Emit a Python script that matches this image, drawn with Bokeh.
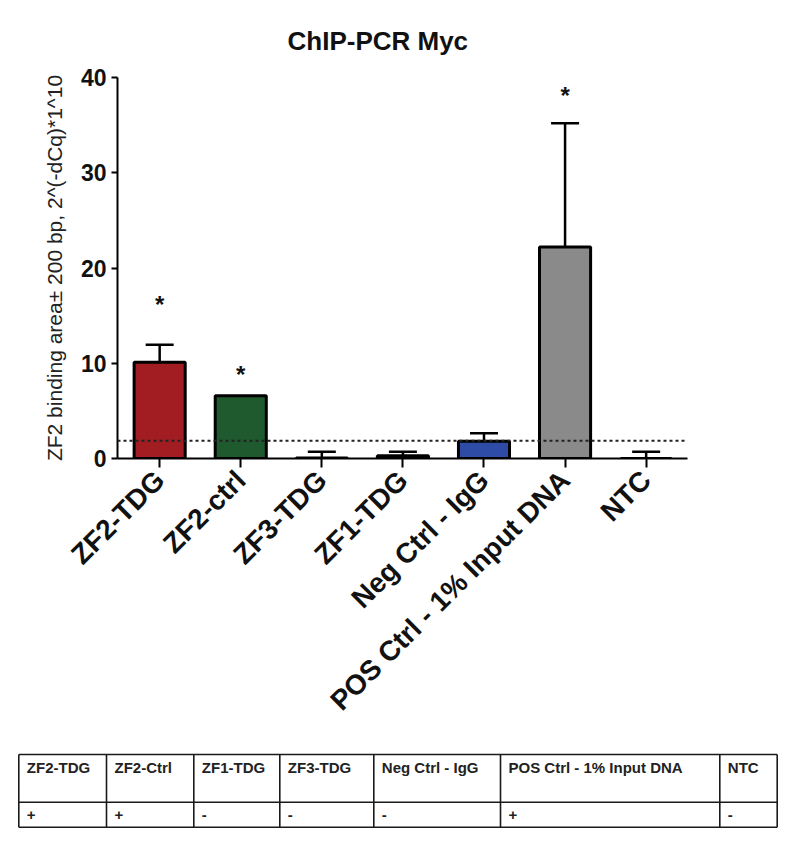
import math
from bokeh.plotting import figure
from bokeh.models import Range1d, FixedTicker, Whisker, Span, ColumnDataSource, TeeHead
from bokeh.core.properties import value
from bokeh.embed import file_html
from bokeh.resources import INLINE

# ---------------- data ----------------
categories = ["ZF2-TDG", "ZF2-ctrl", "ZF3-TDG", "ZF1-TDG", "Neg Ctrl - IgG",
              "POS Ctrl - 1% Input DNA", "NTC"]
means = [10.1, 6.6, 0.05, 0.3, 1.8, 22.2, 0.0]
errors = [1.85, 0.0, 0.65, 0.4, 0.85, 13.0, 0.7]
bar_colors = ["#A11D22", "#1E5A2E", "#8A8A8A", "#8A8A8A", "#2E4CA6", "#8A8A8A", "#8A8A8A"]
sig_x = [0, 1, 5]
sig_y = [16.2, 8.8, 38.1]
sig_text = ["*", "*", "*"]
threshold = 1.87
y_ticks = [0, 10, 20, 30, 40]

table_headers = ["ZF2-TDG", "ZF2-Ctrl", "ZF1-TDG", "ZF3-TDG", "Neg Ctrl - IgG",
                 "POS Ctrl - 1% Input DNA", "NTC"]
table_results = ["+", "+", "-", "-", "-", "+", "-"]

FONT = "Liberation Sans"
W = 800
H_MAIN = 745
H_TABLE = 103

# ---------------- main chart ----------------
p = figure(width=W, height=H_MAIN, x_range=Range1d(-0.52, 6.51), y_range=Range1d(0, 40),
           output_backend="svg", toolbar_location=None,
           min_border_left=117, min_border_right=W - 687, min_border_top=77,
           min_border_bottom=H_MAIN - 458)
p.title.text = "ChIP-PCR Myc"
p.title.text_font = FONT
p.title.text_font_size = "26px"
p.title.text_font_style = "bold"
p.title.text_color = "#111111"
p.title.align = "left"
p.title.offset = 170
p.title.standoff = 44
p.title.text_line_height = 0.8

p.xgrid.visible = False
p.ygrid.visible = False
p.outline_line_color = None
p.background_fill_color = "white"
p.border_fill_color = "white"

idx = list(range(len(categories)))
bars = ColumnDataSource(dict(x=idx, top=means, color=bar_colors))
p.vbar(x="x", top="top", width=0.63, source=bars, fill_color="color",
       line_color="black", line_width=3)

p.add_layout(Span(location=threshold, dimension="width", line_color="#222222",
                  line_width=2, line_dash="3 3"))

up_x = [i for i, e in zip(idx, errors) if e > 0]
up = ColumnDataSource(dict(
    x=up_x,
    base=[means[i] for i in up_x],
    upper=[means[i] + errors[i] for i in up_x]))
p.add_layout(Whisker(source=up, base="x", lower="base", upper="upper",
                     line_width=2.5, line_color="black",
                     upper_head=TeeHead(size=28, line_width=2.5, line_color="black"),
                     lower_head=None))
dn_x = [i for i, e in zip(idx, errors) if e > 0 and means[i] - e > 0]
dn = ColumnDataSource(dict(
    x=dn_x,
    base=[means[i] for i in dn_x],
    lower=[means[i] - errors[i] for i in dn_x]))
p.add_layout(Whisker(source=dn, base="x", lower="lower", upper="base",
                     line_width=2.5, line_color="black",
                     lower_head=TeeHead(size=28, line_width=2.5, line_color="black"),
                     upper_head=None))

p.text(x=sig_x, y=sig_y, text=sig_text, text_font=value(FONT), text_font_size="24px",
       text_font_style="bold", text_align="center", text_baseline="middle",
       text_color="#111111")

# axes
for ax in (p.xaxis[0], p.yaxis[0]):
    ax.axis_line_width = 2
    ax.axis_line_color = "black"
    ax.major_tick_line_width = 2
    ax.major_tick_line_color = "black"
    ax.major_tick_in = 0
    ax.minor_tick_line_color = None
    ax.major_label_text_font = FONT
    ax.major_label_text_font_style = "bold"
    ax.major_label_text_color = "#111111"

p.xaxis.ticker = FixedTicker(ticks=idx)
p.xaxis.major_label_overrides = {i: c for i, c in zip(idx, categories)}
p.xaxis.major_label_orientation = math.pi / 4
p.xaxis.major_label_text_font_size = "28px"
p.xaxis.major_tick_out = 9
p.xaxis.major_label_standoff = 8

p.yaxis.ticker = FixedTicker(ticks=y_ticks)
p.yaxis.major_label_text_font_size = "23px"
p.yaxis.major_tick_out = 6
p.yaxis.major_label_standoff = 5
p.yaxis.axis_label = "ZF2 binding area\u00b1 200 bp, 2^(-dCq)*1^10"
p.yaxis.axis_label_text_font = FONT
p.yaxis.axis_label_text_font_size = "21px"
p.yaxis.axis_label_text_font_style = "normal"
p.yaxis.axis_label_text_color = "#222222"
p.yaxis.axis_label_standoff = 12

# ---------------- table ----------------
col_edges = [18.3, 106, 193.3, 279.3, 373.3, 500, 719.3, 776.7]
row_top, row_mid, row_bot = 754 - H_MAIN, 801.7 - H_MAIN, 826.7 - H_MAIN

t = figure(width=W, height=H_TABLE, x_range=Range1d(0, W), y_range=Range1d(H_TABLE, 0),
           output_backend="svg", toolbar_location=None, min_border=0)
t.axis.visible = False
t.grid.visible = False
t.outline_line_color = None

t.segment(x0=col_edges, y0=[row_top] * len(col_edges), x1=col_edges,
          y1=[row_bot] * len(col_edges), line_color="#1a1a1a", line_width=1.6)
t.segment(x0=[col_edges[0]] * 3, y0=[row_top, row_mid, row_bot],
          x1=[col_edges[-1]] * 3, y1=[row_top, row_mid, row_bot],
          line_color="#1a1a1a", line_width=1.6)
t.text(x=[e + 8 for e in col_edges[:-1]], y=[row_top + 4] * len(table_headers),
       text=table_headers, text_font=value(FONT), text_font_size="15px",
       text_font_style="bold", text_baseline="top", text_align="left", text_color="#222222")
t.text(x=[e + 8 for e in col_edges[:-1]], y=[(row_mid + row_bot) / 2] * len(table_results),
       text=table_results, text_font=value(FONT), text_font_size="15px",
       text_font_style="bold", text_baseline="middle", text_align="left", text_color="#222222")

open("out.html", "w").write(file_html([p, t], INLINE))
